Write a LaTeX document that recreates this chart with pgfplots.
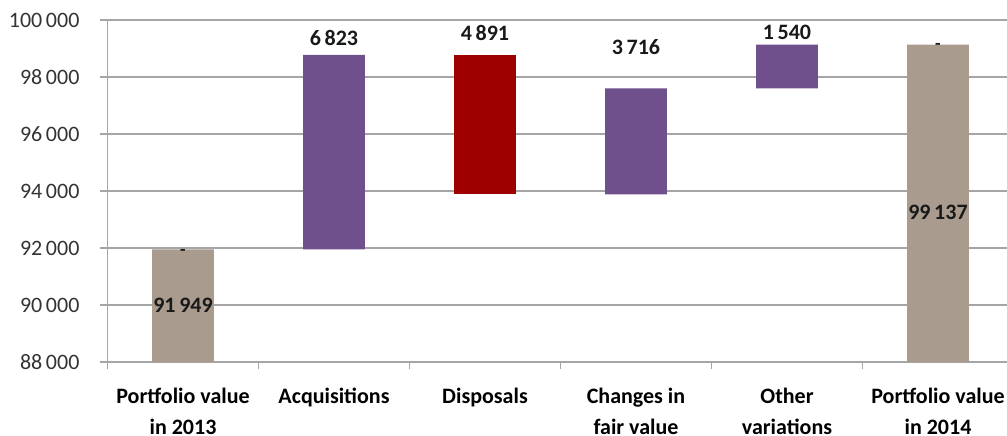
\documentclass[border=0pt]{standalone}
\usepackage{pgfplots}
\pgfplotsset{compat=1.18}
\usepackage{fontspec}
\setmainfont{Carlito}

\definecolor{stone}{RGB}{169,156,143}
\definecolor{plum}{RGB}{111,79,140}
\definecolor{crimson}{RGB}{158,0,0}
\definecolor{gridgray}{RGB}{165,165,165}
\tikzset{vlabel/.style={font=\bfseries\fontsize{11}{13}\selectfont, text=black!90}}

\begin{document}
\begin{tikzpicture}
\begin{axis}[
  scale only axis,
  width=453pt, height=171pt,
  xmin=-0.5, xmax=5.5,
  ymin=88000, ymax=100000,
  ybar stacked, bar width=0.41,
  axis x line*=bottom, axis y line*=left,
  axis line style={gridgray, line width=0.75pt},
  ymajorgrids,
  major grid style={gridgray, line width=0.75pt},
  tick style={gridgray, line width=0.75pt},
  tick align=outside,
  major tick length=3.5pt,
  minor tick length=3.5pt,
  scaled y ticks=false,
  ytick={88000,90000,...,100000},
  yticklabels={88\,000,90\,000,92\,000,94\,000,96\,000,98\,000,100\,000},
  yticklabel style={font=\fontsize{11}{13}\selectfont, text=black!80, xshift=-7pt},
  xtick={0,1,2,3,4,5},
  major x tick style=transparent,
  minor xtick={-0.5,0.5,1.5,2.5,3.5,4.5,5.5},
  xticklabels={{Portfolio value\\in 2013},{Acquisitions},{Disposals},{Changes in\\fair value},{Other\\variations},{Portfolio value\\in 2014}},
  xticklabel style={font=\bfseries\fontsize{11}{15.5}\selectfont, align=center, anchor=north, yshift=-6pt, text=black},
]
% invisible base that lifts each floating bar
\addplot[fill=white, fill opacity=0, draw=none] coordinates {(0,0) (1,91949) (2,93881) (3,93881) (4,97597) (5,0)};
% opening and closing portfolio values
\addplot[fill=stone, draw=none] coordinates {(0,91949) (1,0) (2,0) (3,0) (4,0) (5,99137)};
% increases
\addplot[fill=plum, draw=none] coordinates {(0,0) (1,6823) (2,0) (3,3716) (4,1540) (5,0)};
% decreases
\addplot[fill=crimson, draw=none] coordinates {(0,0) (1,0) (2,4891) (3,0) (4,0) (5,0)};

% anchor points for the value labels
\coordinate (l0) at (axis cs:0,90000);
\coordinate (l1) at (axis cs:1,99368);
\coordinate (l2) at (axis cs:2,99544);
\coordinate (l3) at (axis cs:3,99053);
\coordinate (l4) at (axis cs:4,99579);
\coordinate (l5) at (axis cs:5,93263);
\coordinate (d0) at (axis cs:0,91830);
\coordinate (d5) at (axis cs:5,99060);
\end{axis}
% value labels, set above the bars
\node[vlabel] at (l0) {91\,949};
\node[vlabel] at (l1) {6\,823};
\node[vlabel] at (l2) {4\,891};
\node[vlabel] at (l3) {3\,716};
\node[vlabel] at (l4) {1\,540};
\node[vlabel] at (l5) {99\,137};
\node[vlabel, font=\bfseries\fontsize{9}{10}\selectfont] at (d0) {-};
\node[vlabel, font=\bfseries\fontsize{9}{10}\selectfont] at (d5) {-};
\pgfresetboundingbox
\useasboundingbox (-53.75pt,-36.5pt) rectangle (449.75pt,181pt);
\end{tikzpicture}
\end{document}
